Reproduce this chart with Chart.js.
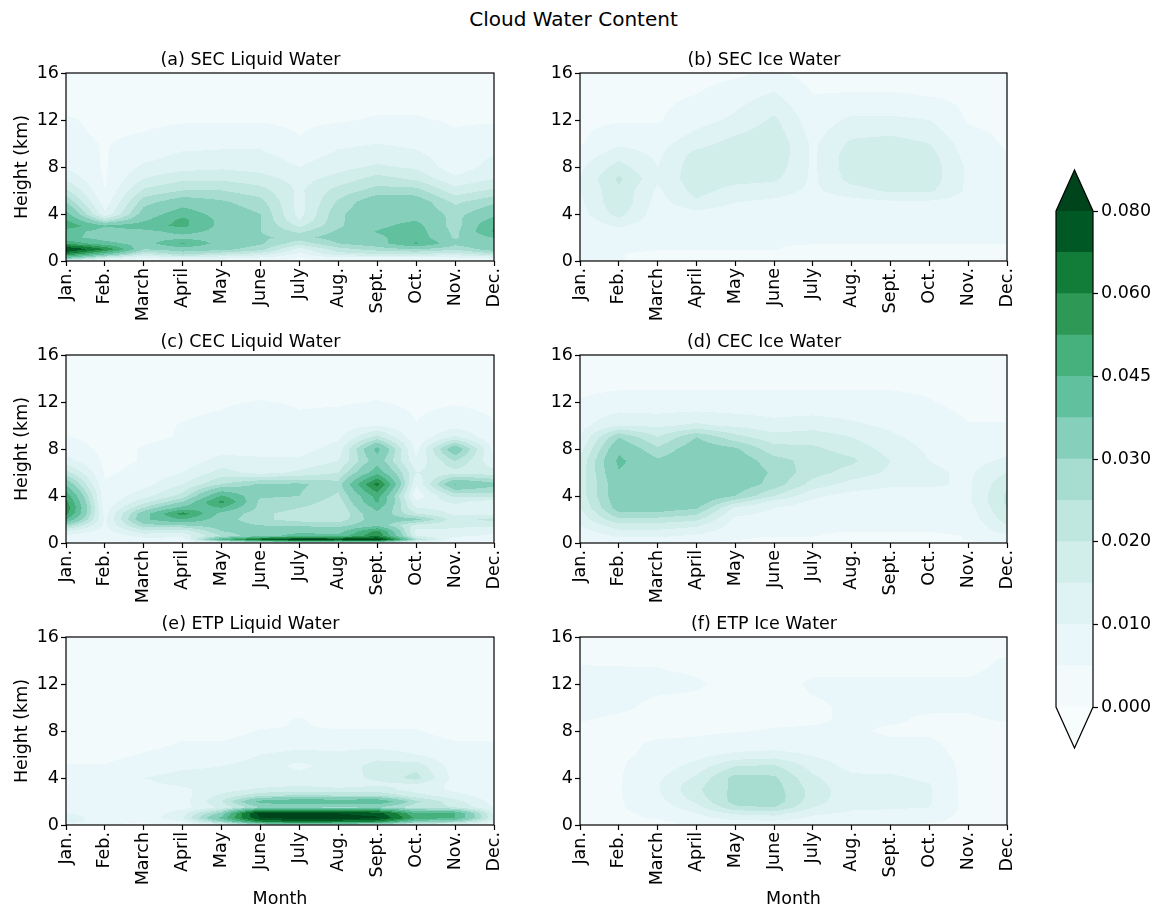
<!DOCTYPE html>
<html>
<head>
<meta charset="utf-8">
<title>Cloud Water Content</title>
<script src="https://cdn.jsdelivr.net/npm/chart.js@4.4.0/dist/chart.umd.min.js"></script>
<style>
  html, body { margin: 0; padding: 0; background: #fff; overflow: hidden; }
  body { width: 1157px; height: 909px; position: relative; font-family: 'DejaVu Sans', sans-serif; }
  canvas { position: absolute; }
  #suptitle { position: absolute; left: 0; top: 8px; width: 1147px; text-align: center; font-size: 20px; line-height: 22px; color: #000; }
</style>
</head>
<body>
<div id="suptitle">Cloud Water Content</div>
<canvas id="panelA"></canvas>
<canvas id="panelB"></canvas>
<canvas id="panelC"></canvas>
<canvas id="panelD"></canvas>
<canvas id="panelE"></canvas>
<canvas id="panelF"></canvas>
<canvas id="colorbar"></canvas>
<script>
// months on the x axis, heights (km) of the grid rows
const months = ['Jan.', 'Feb.', 'March', 'April', 'May', 'June', 'July', 'Aug.', 'Sept.', 'Oct.', 'Nov.', 'Dec.'];
const heights = [0, 0.3, 0.6, 1, 1.5, 2, 2.5, 3, 3.5, 4, 5, 6, 7, 8, 9, 10, 12, 14, 16];

// contour levels and colorbar tick labels
const levels = [0, 0.005, 0.01, 0.015, 0.02, 0.025, 0.03, 0.0375, 0.045, 0.0525, 0.06, 0.07, 0.08];
const colorbarTicks = [0, 0.01, 0.02, 0.03, 0.045, 0.06, 0.08];
const bandColors = ['#f3fafc', '#eaf7fa', '#dff3f4', '#d2eeeb', '#bfe7df', '#a6ddd0', '#86d0bb', '#61c09e', '#46b17c', '#2e9857', '#127c39', '#005924'];
const underColor = '#f7fcfd';
const overColor = '#00441b';

const panelTitles = ['(a) SEC Liquid Water', '(b) SEC Ice Water', '(c) CEC Liquid Water', '(d) CEC Ice Water', '(e) ETP Liquid Water', '(f) ETP Ice Water'];

// one row per month, values at each height
const secLiquid = [
  [0.015, 0.04, 0.06, 0.082, 0.05, 0.04, 0.041, 0.05, 0.046, 0.04, 0.03, 0.021, 0.014, 0.009, 0.007, 0.006, 0.0055, 0.003, 0.002],
  [0.006, 0.02, 0.04, 0.06, 0.04, 0.034, 0.034, 0.038, 0.022, 0.011, 0.007, 0.005, 0.0045, 0.0045, 0.0047, 0.0048, 0.004, 0.003, 0.002],
  [0.005, 0.01, 0.02, 0.03, 0.034, 0.034, 0.035, 0.042, 0.036, 0.033, 0.028, 0.021, 0.015, 0.011, 0.008, 0.006, 0.004, 0.003, 0.002],
  [0.006, 0.015, 0.027, 0.033, 0.046, 0.035, 0.04, 0.047, 0.047, 0.042, 0.034, 0.025, 0.019, 0.013, 0.011, 0.008, 0.0045, 0.003, 0.002],
  [0.006, 0.012, 0.022, 0.032, 0.034, 0.034, 0.035, 0.035, 0.035, 0.034, 0.031, 0.025, 0.019, 0.014, 0.011, 0.009, 0.0045, 0.003, 0.002],
  [0.005, 0.01, 0.018, 0.027, 0.031, 0.031, 0.03, 0.03, 0.03, 0.03, 0.027, 0.022, 0.017, 0.013, 0.011, 0.009, 0.0045, 0.003, 0.002],
  [0.003, 0.005, 0.009, 0.013, 0.022, 0.028, 0.024, 0.019, 0.015, 0.013, 0.013, 0.014, 0.013, 0.01, 0.008, 0.0055, 0.004, 0.003, 0.002],
  [0.005, 0.01, 0.018, 0.023, 0.03, 0.033, 0.031, 0.029, 0.029, 0.029, 0.026, 0.022, 0.017, 0.013, 0.011, 0.009, 0.0045, 0.003, 0.002],
  [0.005, 0.01, 0.02, 0.027, 0.034, 0.036, 0.038, 0.036, 0.035, 0.035, 0.035, 0.027, 0.022, 0.016, 0.012, 0.01, 0.0055, 0.003, 0.002],
  [0.005, 0.01, 0.02, 0.03, 0.046, 0.042, 0.041, 0.04, 0.037, 0.035, 0.034, 0.027, 0.019, 0.014, 0.011, 0.009, 0.0055, 0.003, 0.002],
  [0.005, 0.01, 0.018, 0.026, 0.032, 0.029, 0.028, 0.027, 0.028, 0.028, 0.024, 0.017, 0.011, 0.007, 0.007, 0.006, 0.0045, 0.003, 0.002],
  [0.006, 0.012, 0.024, 0.033, 0.035, 0.038, 0.046, 0.045, 0.04, 0.035, 0.029, 0.021, 0.015, 0.012, 0.01, 0.008, 0.0045, 0.003, 0.002]
];
const secIce = [
  [0.006, 0.006, 0.006, 0.006, 0.006, 0.006, 0.006, 0.006, 0.007, 0.008, 0.009, 0.01, 0.01, 0.009, 0.007, 0.0045, 0.004, 0.003, 0.003],
  [0.0052, 0.0052, 0.0052, 0.006, 0.006, 0.007, 0.008, 0.011, 0.014, 0.017, 0.019, 0.019, 0.021, 0.017, 0.013, 0.009, 0.0045, 0.004, 0.003],
  [0.004, 0.004, 0.004, 0.0052, 0.0052, 0.006, 0.006, 0.006, 0.007, 0.007, 0.008, 0.009, 0.011, 0.01, 0.009, 0.008, 0.0045, 0.004, 0.003],
  [0.004, 0.004, 0.004, 0.0052, 0.0052, 0.006, 0.006, 0.006, 0.007, 0.008, 0.014, 0.017, 0.018, 0.018, 0.017, 0.013, 0.008, 0.0052, 0.003],
  [0.004, 0.004, 0.004, 0.0052, 0.0052, 0.0052, 0.006, 0.006, 0.006, 0.007, 0.01, 0.013, 0.017, 0.018, 0.019, 0.017, 0.011, 0.008, 0.004],
  [0.004, 0.004, 0.004, 0.0052, 0.0052, 0.0052, 0.0052, 0.006, 0.006, 0.006, 0.009, 0.012, 0.016, 0.018, 0.019, 0.019, 0.016, 0.011, 0.006],
  [0.004, 0.004, 0.004, 0.004, 0.0052, 0.0052, 0.0052, 0.0052, 0.0052, 0.006, 0.007, 0.009, 0.009, 0.009, 0.009, 0.009, 0.007, 0.0052, 0.003],
  [0.004, 0.004, 0.004, 0.004, 0.0052, 0.0052, 0.0052, 0.0052, 0.0052, 0.006, 0.008, 0.013, 0.017, 0.018, 0.018, 0.016, 0.011, 0.0055, 0.003],
  [0.004, 0.004, 0.004, 0.004, 0.0052, 0.0052, 0.0052, 0.0052, 0.0052, 0.006, 0.009, 0.016, 0.018, 0.019, 0.019, 0.017, 0.011, 0.0055, 0.003],
  [0.004, 0.004, 0.004, 0.004, 0.0052, 0.0052, 0.0052, 0.0052, 0.0052, 0.006, 0.009, 0.016, 0.018, 0.018, 0.017, 0.015, 0.01, 0.005, 0.003],
  [0.004, 0.004, 0.004, 0.004, 0.0052, 0.0052, 0.0052, 0.0052, 0.0052, 0.0052, 0.008, 0.009, 0.009, 0.009, 0.008, 0.007, 0.0045, 0.004, 0.003],
  [0.004, 0.004, 0.004, 0.004, 0.0052, 0.0052, 0.0052, 0.0052, 0.0052, 0.0052, 0.006, 0.006, 0.006, 0.006, 0.0052, 0.0045, 0.004, 0.003, 0.003]
];
const cecLiquid = [
  [0.005, 0.007, 0.009, 0.014, 0.028, 0.045, 0.055, 0.058, 0.055, 0.05, 0.036, 0.022, 0.012, 0.007, 0.0052, 0.0045, 0.004, 0.003, 0.002],
  [0.004, 0.0052, 0.006, 0.008, 0.009, 0.009, 0.008, 0.007, 0.006, 0.006, 0.0052, 0.0045, 0.004, 0.004, 0.004, 0.004, 0.004, 0.003, 0.002],
  [0.004, 0.008, 0.012, 0.018, 0.028, 0.036, 0.034, 0.025, 0.018, 0.013, 0.008, 0.006, 0.0052, 0.0052, 0.0045, 0.004, 0.004, 0.003, 0.002],
  [0.004, 0.007, 0.012, 0.016, 0.03, 0.045, 0.056, 0.04, 0.03, 0.022, 0.015, 0.01, 0.007, 0.006, 0.0052, 0.0052, 0.004, 0.003, 0.002],
  [0.005, 0.045, 0.025, 0.03, 0.033, 0.033, 0.035, 0.045, 0.055, 0.046, 0.025, 0.017, 0.012, 0.008, 0.007, 0.006, 0.0045, 0.003, 0.002],
  [0.01, 0.07, 0.035, 0.034, 0.03, 0.026, 0.026, 0.028, 0.028, 0.031, 0.031, 0.013, 0.011, 0.008, 0.007, 0.009, 0.0052, 0.003, 0.002],
  [0.01, 0.085, 0.04, 0.036, 0.029, 0.023, 0.023, 0.025, 0.028, 0.03, 0.031, 0.016, 0.011, 0.008, 0.007, 0.006, 0.0045, 0.003, 0.002],
  [0.01, 0.08, 0.04, 0.034, 0.028, 0.022, 0.02, 0.021, 0.022, 0.024, 0.027, 0.02, 0.015, 0.012, 0.009, 0.007, 0.0045, 0.003, 0.002],
  [0.012, 0.085, 0.06, 0.055, 0.035, 0.034, 0.036, 0.04, 0.046, 0.048, 0.063, 0.042, 0.034, 0.04, 0.022, 0.01, 0.0052, 0.003, 0.002],
  [0.006, 0.025, 0.015, 0.013, 0.018, 0.032, 0.02, 0.015, 0.011, 0.007, 0.01, 0.015, 0.011, 0.008, 0.006, 0.0052, 0.004, 0.003, 0.002],
  [0.004, 0.007, 0.011, 0.014, 0.016, 0.017, 0.014, 0.013, 0.016, 0.021, 0.038, 0.018, 0.025, 0.036, 0.016, 0.008, 0.0045, 0.003, 0.002],
  [0.004, 0.006, 0.009, 0.011, 0.016, 0.022, 0.013, 0.011, 0.012, 0.022, 0.032, 0.017, 0.011, 0.008, 0.006, 0.0052, 0.004, 0.003, 0.002]
];
const cecIce = [
  [0.004, 0.0052, 0.006, 0.008, 0.01, 0.012, 0.013, 0.015, 0.016, 0.017, 0.017, 0.017, 0.016, 0.013, 0.01, 0.008, 0.0052, 0.004, 0.003],
  [0.006, 0.008, 0.011, 0.014, 0.018, 0.024, 0.029, 0.033, 0.034, 0.035, 0.035, 0.037, 0.039, 0.036, 0.03, 0.015, 0.006, 0.004, 0.003],
  [0.006, 0.008, 0.011, 0.014, 0.018, 0.023, 0.029, 0.033, 0.034, 0.035, 0.035, 0.034, 0.031, 0.026, 0.02, 0.014, 0.006, 0.004, 0.003],
  [0.0052, 0.007, 0.009, 0.012, 0.016, 0.021, 0.026, 0.031, 0.034, 0.035, 0.036, 0.036, 0.035, 0.034, 0.03, 0.016, 0.006, 0.004, 0.003],
  [0.004, 0.0052, 0.006, 0.007, 0.008, 0.009, 0.011, 0.014, 0.022, 0.03, 0.034, 0.035, 0.034, 0.031, 0.022, 0.014, 0.006, 0.004, 0.003],
  [0.004, 0.004, 0.0052, 0.006, 0.007, 0.008, 0.009, 0.01, 0.013, 0.02, 0.028, 0.029, 0.027, 0.022, 0.017, 0.012, 0.006, 0.004, 0.003],
  [0.004, 0.004, 0.0052, 0.0052, 0.006, 0.006, 0.007, 0.008, 0.009, 0.011, 0.018, 0.022, 0.023, 0.021, 0.018, 0.013, 0.006, 0.004, 0.003],
  [0.004, 0.004, 0.004, 0.0052, 0.0052, 0.0052, 0.006, 0.006, 0.007, 0.008, 0.013, 0.018, 0.021, 0.018, 0.015, 0.011, 0.006, 0.004, 0.003],
  [0.004, 0.004, 0.004, 0.0052, 0.0052, 0.0052, 0.0052, 0.006, 0.006, 0.007, 0.011, 0.014, 0.015, 0.013, 0.011, 0.009, 0.006, 0.004, 0.003],
  [0.004, 0.004, 0.004, 0.0052, 0.0052, 0.0052, 0.0052, 0.006, 0.006, 0.007, 0.011, 0.011, 0.01, 0.009, 0.008, 0.007, 0.0052, 0.004, 0.003],
  [0.004, 0.0052, 0.0052, 0.006, 0.006, 0.007, 0.007, 0.008, 0.009, 0.009, 0.009, 0.009, 0.008, 0.007, 0.0052, 0.0052, 0.004, 0.004, 0.003],
  [0.0052, 0.007, 0.009, 0.012, 0.015, 0.017, 0.019, 0.02, 0.021, 0.021, 0.019, 0.015, 0.011, 0.008, 0.006, 0.0052, 0.004, 0.004, 0.003]
];
const etpLiquid = [
  [0.008, 0.013, 0.014, 0.01, 0.007, 0.006, 0.0052, 0.0052, 0.0052, 0.0052, 0.0052, 0.004, 0.004, 0.004, 0.004, 0.003, 0.003, 0.003, 0.002],
  [0.0052, 0.006, 0.006, 0.006, 0.006, 0.007, 0.006, 0.0052, 0.0052, 0.0052, 0.0052, 0.004, 0.004, 0.004, 0.004, 0.003, 0.003, 0.003, 0.002],
  [0.004, 0.0052, 0.006, 0.006, 0.006, 0.006, 0.006, 0.007, 0.009, 0.01, 0.007, 0.0052, 0.004, 0.004, 0.004, 0.003, 0.003, 0.003, 0.002],
  [0.0052, 0.01, 0.015, 0.013, 0.008, 0.008, 0.008, 0.009, 0.011, 0.012, 0.009, 0.006, 0.0052, 0.004, 0.004, 0.003, 0.003, 0.003, 0.002],
  [0.008, 0.03, 0.04, 0.032, 0.016, 0.02, 0.016, 0.013, 0.012, 0.012, 0.01, 0.007, 0.0052, 0.004, 0.004, 0.003, 0.003, 0.003, 0.002],
  [0.02, 0.06, 0.08, 0.085, 0.03, 0.04, 0.024, 0.016, 0.013, 0.013, 0.012, 0.01, 0.006, 0.0052, 0.004, 0.003, 0.003, 0.003, 0.002],
  [0.02, 0.07, 0.085, 0.085, 0.03, 0.045, 0.026, 0.017, 0.014, 0.012, 0.009, 0.012, 0.007, 0.0052, 0.0052, 0.004, 0.003, 0.003, 0.002],
  [0.02, 0.065, 0.085, 0.08, 0.028, 0.043, 0.025, 0.016, 0.013, 0.013, 0.012, 0.011, 0.007, 0.0052, 0.004, 0.004, 0.003, 0.003, 0.002],
  [0.018, 0.06, 0.082, 0.075, 0.03, 0.045, 0.025, 0.017, 0.014, 0.016, 0.017, 0.013, 0.007, 0.0052, 0.004, 0.003, 0.003, 0.003, 0.002],
  [0.012, 0.035, 0.05, 0.045, 0.022, 0.026, 0.017, 0.013, 0.015, 0.022, 0.018, 0.01, 0.006, 0.0052, 0.004, 0.003, 0.003, 0.003, 0.002],
  [0.01, 0.03, 0.045, 0.045, 0.02, 0.017, 0.012, 0.009, 0.008, 0.008, 0.007, 0.006, 0.0052, 0.004, 0.004, 0.003, 0.003, 0.003, 0.002],
  [0.006, 0.012, 0.016, 0.014, 0.01, 0.008, 0.007, 0.006, 0.006, 0.006, 0.006, 0.0052, 0.0052, 0.004, 0.004, 0.003, 0.003, 0.003, 0.002]
];
const etpIce = [
  [0.0047, 0.0047, 0.0047, 0.0047, 0.0047, 0.0047, 0.0047, 0.0047, 0.0047, 0.0047, 0.0047, 0.0047, 0.0047, 0.0042, 0.0052, 0.0058, 0.0058, 0.0048, 0.004],
  [0.0046, 0.0046, 0.0046, 0.0046, 0.0046, 0.0046, 0.0046, 0.0046, 0.0046, 0.0046, 0.0046, 0.0046, 0.0046, 0.0042, 0.0046, 0.0054, 0.0056, 0.0048, 0.004],
  [0.0045, 0.0045, 0.0052, 0.0055, 0.007, 0.008, 0.009, 0.0095, 0.0095, 0.009, 0.007, 0.0055, 0.0052, 0.0045, 0.0042, 0.0045, 0.0055, 0.0048, 0.004],
  [0.0052, 0.006, 0.008, 0.01, 0.013, 0.016, 0.018, 0.019, 0.018, 0.016, 0.012, 0.008, 0.0055, 0.0045, 0.0042, 0.0045, 0.0052, 0.0045, 0.004],
  [0.006, 0.009, 0.012, 0.016, 0.024, 0.027, 0.027, 0.0265, 0.0265, 0.027, 0.02, 0.011, 0.0065, 0.0048, 0.0045, 0.0045, 0.0045, 0.0042, 0.004],
  [0.006, 0.009, 0.013, 0.017, 0.025, 0.028, 0.028, 0.0275, 0.027, 0.026, 0.021, 0.012, 0.0065, 0.0052, 0.0045, 0.0045, 0.0045, 0.0042, 0.004],
  [0.0052, 0.007, 0.009, 0.011, 0.015, 0.017, 0.018, 0.018, 0.017, 0.016, 0.013, 0.0095, 0.006, 0.0052, 0.0048, 0.0048, 0.0052, 0.0045, 0.004],
  [0.0052, 0.006, 0.008, 0.009, 0.011, 0.0115, 0.0115, 0.0115, 0.0112, 0.011, 0.0085, 0.007, 0.0055, 0.0052, 0.0052, 0.0052, 0.0052, 0.0045, 0.004],
  [0.0048, 0.0055, 0.007, 0.008, 0.011, 0.012, 0.012, 0.012, 0.0115, 0.011, 0.008, 0.006, 0.0052, 0.0048, 0.0052, 0.0052, 0.0052, 0.0045, 0.004],
  [0.0048, 0.0052, 0.006, 0.007, 0.01, 0.0105, 0.0105, 0.0105, 0.0102, 0.009, 0.007, 0.0055, 0.0052, 0.0048, 0.0048, 0.0052, 0.0052, 0.0045, 0.004],
  [0.0045, 0.0045, 0.004, 0.004, 0.0035, 0.003, 0.003, 0.003, 0.003, 0.0035, 0.004, 0.0045, 0.0045, 0.0045, 0.0048, 0.0052, 0.0052, 0.0045, 0.004],
  [0.0045, 0.0045, 0.0045, 0.0045, 0.0045, 0.0045, 0.0045, 0.0045, 0.0045, 0.0045, 0.0045, 0.0045, 0.0045, 0.0042, 0.0052, 0.0055, 0.0055, 0.0052, 0.004]
];
const panelGrids = [secLiquid, secIce, cecLiquid, cecIce, etpLiquid, etpIce];

Chart.defaults.font.family = "'DejaVu Sans', sans-serif";
Chart.defaults.font.size = 17.5;
Chart.defaults.color = '#000';

function hexToRgb(hex) {
  const n = parseInt(hex.slice(1), 16);
  return [(n >> 16) & 255, (n >> 8) & 255, n & 255];
}
const bandRgb = bandColors.map(hexToRgb);
const underRgb = hexToRgb(underColor);
const overRgb = hexToRgb(overColor);

function colorFor(v) {
  if (v < levels[0]) return underRgb;
  if (v >= levels[levels.length - 1]) return overRgb;
  let i = 0;
  while (v >= levels[i + 1]) i++;
  return bandRgb[i];
}

// fills the plot area with the banded field, pixel values come from the scales
function contourPlugin(grid) {
  return {
    id: 'contourFill',
    beforeDatasetsDraw(chart) {
      const {ctx, chartArea: a, scales: {x, y}} = chart;
      const x0 = Math.round(a.left), y0 = Math.round(a.top);
      const w = Math.round(a.right) - x0, h = Math.round(a.bottom) - y0;
      const img = ctx.createImageData(w, h);
      const nm = months.length, nh = heights.length;
      const colK = [], colS = [];
      for (let i = 0; i < w; i++) {
        let m = x.getValueForPixel(x0 + i + 0.5);
        m = Math.min(Math.max(m, 0), nm - 1);
        const k = Math.min(Math.floor(m), nm - 2);
        colK.push(k);
        colS.push(m - k);
      }
      for (let j = 0; j < h; j++) {
        let hv = y.getValueForPixel(y0 + j + 0.5);
        hv = Math.min(Math.max(hv, heights[0]), heights[nh - 1]);
        let r = 0;
        while (r < nh - 2 && heights[r + 1] < hv) r++;
        const t = (hv - heights[r]) / (heights[r + 1] - heights[r]);
        for (let i = 0; i < w; i++) {
          const k = colK[i], s = colS[i];
          const a0 = grid[k][r] * (1 - t) + grid[k][r + 1] * t;
          const a1 = grid[k + 1][r] * (1 - t) + grid[k + 1][r + 1] * t;
          const c = colorFor(a0 * (1 - s) + a1 * s);
          const p = (j * w + i) * 4;
          img.data[p] = c[0];
          img.data[p + 1] = c[1];
          img.data[p + 2] = c[2];
          img.data[p + 3] = 255;
        }
      }
      ctx.putImageData(img, x0, y0);
    },
    afterDraw(chart) {
      const {ctx, chartArea: a} = chart;
      ctx.save();
      ctx.strokeStyle = '#000';
      ctx.lineWidth = 1.2;
      ctx.strokeRect(a.left, a.top, a.right - a.left, a.bottom - a.top);
      ctx.restore();
    }
  };
}

const areaTops = [73, 355, 637];
const areaH = 188;
const colLeft = [0, 514];
const areaW = [428, 427];
const yAxisW = 66;
const padRight = 16;
const labelOverflow = 7;
const titleBlock = 24;

function makePanel(idx) {
  const col = idx % 2, row = Math.floor(idx / 2);
  const canvas = document.getElementById('panel' + 'ABCDEF'[idx]);
  const xAxisH = row === 2 ? 86 : 80;
  canvas.width = yAxisW + areaW[col] + padRight + labelOverflow;
  canvas.height = titleBlock + areaH + xAxisH;
  canvas.style.left = colLeft[col] + 'px';
  canvas.style.top = (areaTops[row] - titleBlock) + 'px';

  const grid = panelGrids[idx];
  const points = [];
  grid.forEach((colVals, k) => colVals.forEach((v, r) => points.push({x: k, y: heights[r]})));

  new Chart(canvas, {
    type: 'scatter',
    data: { datasets: [{ data: points, pointRadius: 0, pointHoverRadius: 0 }] },
    options: {
      responsive: false,
      animation: false,
      events: [],
      layout: { padding: { left: 0, right: padRight, top: 0, bottom: 0 } },
      plugins: {
        legend: { display: false },
        tooltip: { enabled: false },
        title: {
          display: true,
          text: panelTitles[idx],
          font: { size: 17.5, weight: 'normal' },
          color: '#000',
          padding: { top: 1, bottom: 2 }
        }
      },
      scales: {
        x: {
          type: 'linear',
          min: 0,
          max: months.length - 1,
          afterFit(scale) { scale.height = xAxisH; },
          ticks: {
            stepSize: 1,
            autoSkip: false,
            minRotation: 90,
            maxRotation: 90,
            padding: 2,
            callback: (v) => months[v]
          },
          grid: { drawOnChartArea: false, drawTicks: true, tickLength: 5, color: '#000', tickWidth: 1.2 },
          border: { display: false },
          title: {
            display: row === 2,
            text: 'Month',
            font: { size: 17.5 },
            padding: { top: 0, bottom: 1 }
          }
        },
        y: {
          type: 'linear',
          min: 0,
          max: 16,
          afterFit(scale) { scale.width = yAxisW; },
          ticks: { stepSize: 4, padding: 2 },
          grid: { drawOnChartArea: false, drawTicks: true, tickLength: 5, color: '#000', tickWidth: 1.2 },
          border: { display: false },
          title: {
            display: col === 0,
            text: 'Height (km)',
            font: { size: 17.5 },
            padding: { top: 12, bottom: 0 }
          }
        }
      }
    },
    plugins: [contourPlugin(grid)]
  });
}

for (let i = 0; i < 6; i++) makePanel(i);

// colorbar: one stacked bar per contour band, arrows for the extensions
const cbTop = 211, cbBottom = 707, cbLeft = 1056, cbWidth = 37, cbArrow = 41;
const cbCanvas = document.getElementById('colorbar');
const cbPadTop = 45, cbPadLeft = 6, cbAxisW = 70;
cbCanvas.width = cbPadLeft + cbWidth + cbAxisW;
cbCanvas.height = cbPadTop + (cbBottom - cbTop) + cbPadTop;
cbCanvas.style.left = (cbLeft - cbPadLeft) + 'px';
cbCanvas.style.top = (cbTop - cbPadTop) + 'px';

const cbArrows = {
  id: 'cbArrows',
  afterDatasetsDraw(chart) {
    const {ctx, chartArea: a} = chart;
    const cx = (a.left + a.right) / 2;
    ctx.save();
    ctx.fillStyle = overColor;
    ctx.beginPath();
    ctx.moveTo(a.left, a.top);
    ctx.lineTo(cx, a.top - cbArrow);
    ctx.lineTo(a.right, a.top);
    ctx.closePath();
    ctx.fill();
    ctx.fillStyle = underColor;
    ctx.beginPath();
    ctx.moveTo(a.left, a.bottom);
    ctx.lineTo(cx, a.bottom + cbArrow);
    ctx.lineTo(a.right, a.bottom);
    ctx.closePath();
    ctx.fill();
    ctx.strokeStyle = '#000';
    ctx.lineWidth = 1.2;
    ctx.beginPath();
    ctx.moveTo(a.left, a.top);
    ctx.lineTo(cx, a.top - cbArrow);
    ctx.lineTo(a.right, a.top);
    ctx.lineTo(a.right, a.bottom);
    ctx.lineTo(cx, a.bottom + cbArrow);
    ctx.lineTo(a.left, a.bottom);
    ctx.closePath();
    ctx.stroke();
    ctx.restore();
  }
};

new Chart(cbCanvas, {
  type: 'bar',
  data: {
    labels: [''],
    datasets: bandColors.map((c, i) => ({
      label: levels[i] + '-' + levels[i + 1],
      data: [1],
      backgroundColor: c,
      borderWidth: 0,
      barPercentage: 1,
      categoryPercentage: 1
    }))
  },
  options: {
    responsive: false,
    animation: false,
    events: [],
    layout: { padding: { left: cbPadLeft, right: 0, top: cbPadTop, bottom: cbPadTop } },
    plugins: { legend: { display: false }, tooltip: { enabled: false } },
    scales: {
      x: { display: false, stacked: true },
      y: {
        stacked: true,
        position: 'right',
        min: 0,
        max: levels.length - 1,
        afterFit(scale) { scale.width = cbAxisW; },
        afterBuildTicks(scale) {
          scale.ticks = colorbarTicks.map(v => ({ value: levels.indexOf(v) }));
        },
        ticks: {
          padding: 3,
          callback: (v) => levels[v].toFixed(3)
        },
        grid: { drawOnChartArea: false, drawTicks: true, tickLength: 5, color: '#000', tickWidth: 1.2 },
        border: { display: false }
      }
    }
  },
  plugins: [cbArrows]
});
</script>
</body>
</html>
